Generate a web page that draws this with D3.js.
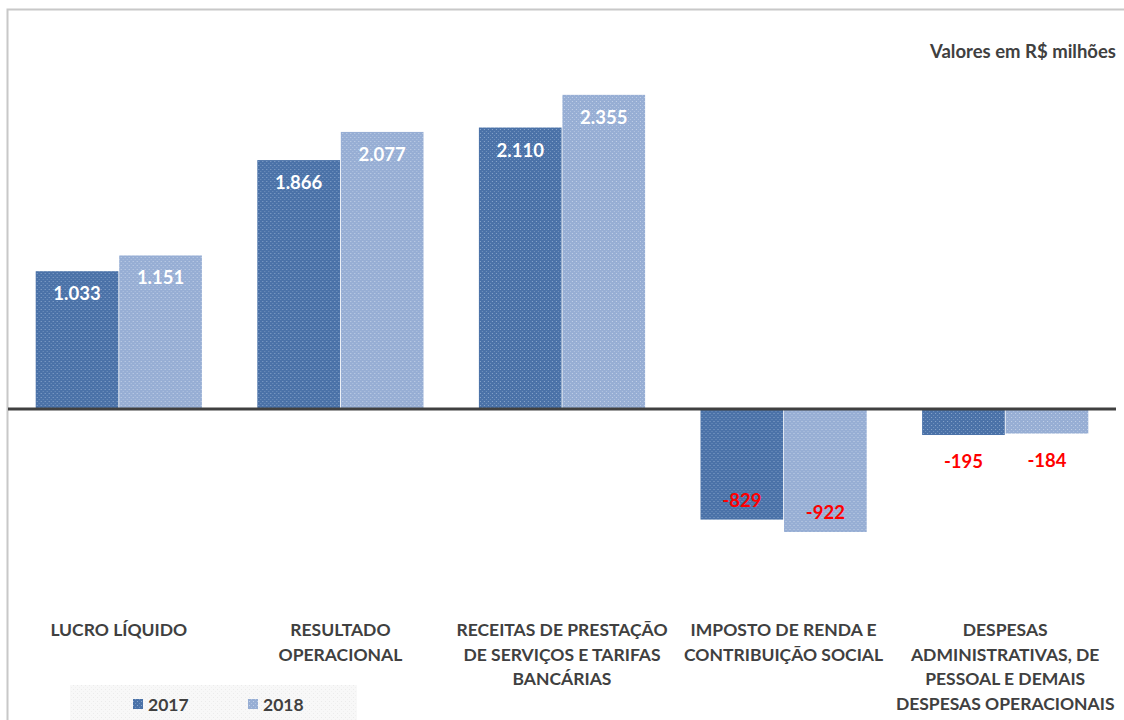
<!DOCTYPE html>
<html>
<head>
<meta charset="utf-8">
<script src="https://cdn.jsdelivr.net/npm/d3@7"></script>
<style>
  body { margin: 0; background: #fff; }
  svg text { font-family: Lato, "Open Sans", sans-serif; font-weight: bold; }
</style>
</head>
<body>
<div id="chart"></div>
<script>
var categories = [
  ["LUCRO LÍQUIDO"],
  ["RESULTADO", "OPERACIONAL"],
  ["RECEITAS DE PRESTAÇÃO", "DE SERVIÇOS E TARIFAS", "BANCÁRIAS"],
  ["IMPOSTO DE RENDA E", "CONTRIBUIÇÃO SOCIAL"],
  ["DESPESAS", "ADMINISTRATIVAS, DE", "PESSOAL E DEMAIS", "DESPESAS OPERACIONAIS"]
];
var years = ["2017", "2018"];
var values2017 = [1033, 1866, 2110, -829, -195];
var values2018 = [1151, 2077, 2355, -922, -184];
var labels2017 = ["1.033", "1.866", "2.110", "-829", "-195"];
var labels2018 = ["1.151", "2.077", "2.355", "-922", "-184"];

var W = 1124, H = 720;
var svg = d3.select("#chart").append("svg").attr("width", W).attr("height", H);
var defs = svg.append("defs");

// textured fills, like the original office chart
function makePattern(id, base, dot) {
  var p = defs.append("pattern").attr("id", id)
    .attr("patternUnits", "userSpaceOnUse").attr("width", 4).attr("height", 4);
  p.append("rect").attr("width", 4).attr("height", 4).attr("fill", base);
  p.append("rect").attr("x", 1).attr("y", 1).attr("width", 1).attr("height", 1).attr("fill", dot);
  p.append("rect").attr("x", 3).attr("y", 3).attr("width", 1).attr("height", 1).attr("fill", dot).attr("opacity", 0.6);
}
makePattern("p2017", "#4b72a8", "#8aa6cc");
makePattern("p2018", "#97aed4", "#c3d1e8");
makePattern("pleg", "#f8f8f8", "#ebebeb");
var fills = ["url(#p2017)", "url(#p2018)"];

// outer border (top and left visible)
svg.append("path").attr("d", "M7.5,720 V9.5 H1124").attr("fill", "none")
  .attr("stroke", "#c8c8c8").attr("stroke-width", 2);

var x0 = d3.scaleBand().domain(d3.range(categories.length)).range([8, 1116])
  .paddingInner(0.25).paddingOuter(0.125);
var x1 = d3.scaleBand().domain(years).range([0, x0.bandwidth()]).paddingInner(0.01);
var y = d3.scaleLinear().domain([-1000, 2500]).range([542.4, 75.5]);

var rows = d3.range(categories.length).map(function(i) {
  return [
    { i: i, year: "2017", v: values2017[i], label: labels2017[i] },
    { i: i, year: "2018", v: values2018[i], label: labels2018[i] }
  ];
});

var groups = svg.selectAll("g.grp").data(rows).enter().append("g")
  .attr("class", "grp")
  .attr("transform", function(d, i) { return "translate(" + x0(i) + ",0)"; });

groups.selectAll("rect").data(function(d) { return d; }).enter().append("rect")
  .attr("x", function(d) { return x1(d.year); })
  .attr("width", x1.bandwidth())
  .attr("y", function(d) { return y(Math.max(0, d.v)); })
  .attr("height", function(d) { return Math.abs(y(d.v) - y(0)); })
  .attr("fill", function(d) { return fills[years.indexOf(d.year)]; });

groups.selectAll("text.val").data(function(d) { return d; }).enter().append("text")
  .attr("class", "val")
  .attr("x", function(d) { return x1(d.year) + x1.bandwidth() / 2; })
  .attr("y", function(d) {
    if (d.v >= 0) return y(d.v) + 29;
    var h = y(d.v) - y(0);
    if (h > 50) return y(d.v) - 13;
    return y(d.v) + 33;
  })
  .attr("text-anchor", "middle")
  .attr("font-size", 18.5)
  .attr("fill", function(d) { return d.v >= 0 ? "#ffffff" : "#ff0000"; })
  .text(function(d) { return d.label; });

// zero line
svg.append("line").attr("x1", 8).attr("x2", 1116).attr("y1", y(0)).attr("y2", y(0))
  .attr("stroke", "#404040").attr("stroke-width", 3);

// category labels
var catText = svg.selectAll("text.cat").data(categories).enter().append("text")
  .attr("class", "cat")
  .attr("text-anchor", "middle")
  .attr("font-size", 17.5)
  .attr("fill", "#404040");
catText.selectAll("tspan").data(function(d, i) { return d.map(function(s) { return { s: s, i: i }; }); })
  .enter().append("tspan")
  .attr("x", function(d) { return x0(d.i) + x0.bandwidth() / 2; })
  .attr("y", function(d, j) { return 636 + j * 24.7; })
  .text(function(d) { return d.s; });

// units note
svg.append("text").attr("x", 1116).attr("y", 58).attr("text-anchor", "end")
  .attr("font-size", 18.5).attr("fill", "#404040").text("Valores em R$ milhões");

// legend
var leg = svg.append("g");
leg.append("rect").attr("x", 70).attr("y", 685).attr("width", 287).attr("height", 35)
  .attr("fill", "url(#pleg)");
var legX = [133, 248];
years.forEach(function(yr, k) {
  leg.append("rect").attr("x", legX[k]).attr("y", 699).attr("width", 10).attr("height", 10)
    .attr("fill", fills[k]);
  leg.append("text").attr("x", legX[k] + 15).attr("y", 711)
    .attr("font-size", 17.5).attr("fill", "#404040").text(yr);
});
</script>
</body>
</html>
